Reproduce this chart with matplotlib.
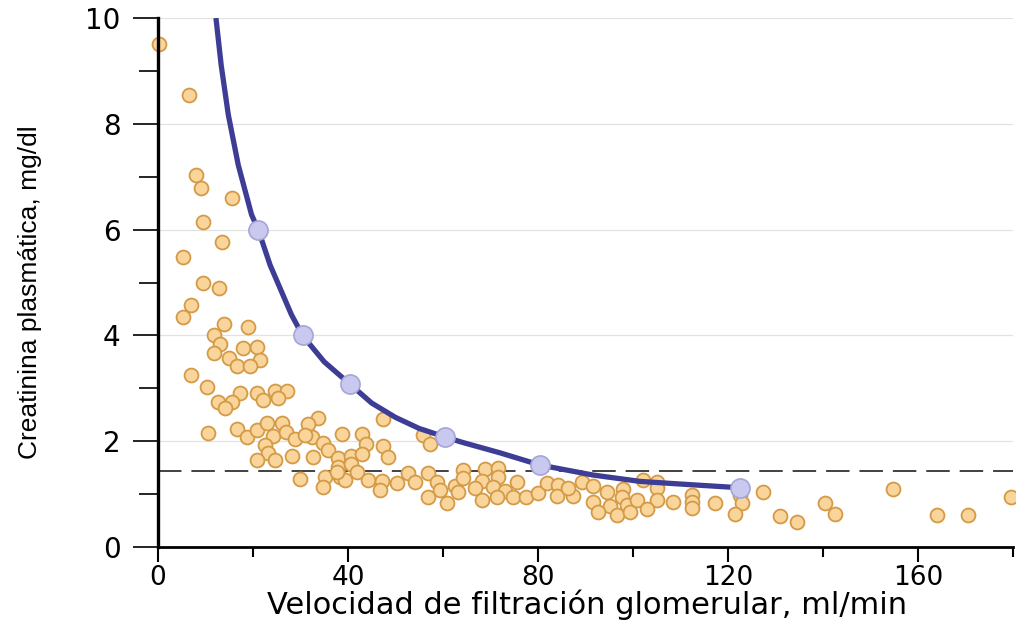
import numpy as np
import matplotlib.pyplot as plt

# scatter of patients: GFR (ml/min) vs plasma creatinine (mg/dl)
gfr_pts = [0.2, 6.5, 8, 9, 15.6, 9.5, 13.5, 5.3, 9.5, 12.8, 7, 5.3, 13.9, 19, 11.8, 13, 17.9, 20.8,
           11.8, 15, 21.5, 16.6, 19.4, 6.9, 10.3, 17.3, 20.8, 24.6, 27.2, 12.6, 15.6, 22.1, 25.3, 14.1,
           10.5, 16.6, 18.7, 20.8, 22.9, 26.1, 24.2, 26.9, 28.8, 22.5, 23.2, 20.8, 24.6, 28.2, 29.8,
           33.7, 31.6, 47.4, 38.7, 42.9, 55.8, 57.3, 32.4, 34.7, 43.8, 47.4, 32.6, 35.8, 37.9, 40.6,
           42.9, 48.4, 37.9, 40.6, 41.9, 38.3, 35.2, 34.7, 39.4, 44.2, 47.2, 46.7, 50.3, 52.6, 54.1,
           56.8, 58.7, 59.4, 62.5, 64.2, 64.2, 56.8, 60.8, 63.2, 37.7, 31.0,
           68.8, 71.6, 68.2, 71.6, 66.7, 70.5, 75.6, 73.1, 68.2, 71.4, 74.7, 77.5, 80, 81.9, 84.2, 84,
           87.4, 86.3, 89.3, 91.6, 94.5, 97.9, 97.7, 91.6, 95.2, 98.7, 92.6, 96.6, 99.4, 100.8,
           102, 105, 105, 105, 108.4, 112.4, 112.4, 112.4, 103, 117.3, 122.5, 123, 121.5, 127.4,
           131, 134.5, 140.4, 142.5, 154.7, 164, 170.5, 179.6]
cr_pts = [9.5, 8.55, 7.03, 6.79, 6.6, 6.14, 5.77, 5.48, 4.99, 4.9, 4.57, 4.35, 4.22, 4.16, 4.0, 3.84, 3.76, 3.78,
          3.67, 3.57, 3.53, 3.42, 3.42, 3.25, 3.03, 2.91, 2.91, 2.95, 2.95, 2.74, 2.74, 2.78, 2.82, 2.63,
          2.16, 2.23, 2.08, 2.21, 2.34, 2.34, 2.1, 2.17, 2.04, 1.93, 1.78, 1.64, 1.64, 1.72, 1.28,
          2.44, 2.32, 2.42, 2.14, 2.14, 2.12, 1.95, 2.08, 1.97, 1.95, 1.91, 1.70, 1.83, 1.68, 1.72,
          1.76, 1.70, 1.51, 1.57, 1.42, 1.32, 1.32, 1.13, 1.27, 1.27, 1.25, 1.08, 1.21, 1.40, 1.23,
          1.40, 1.23, 1.08, 1.15, 1.46, 1.30, 0.95, 0.83, 1.04, 1.42, 2.12,
          1.47, 1.49, 1.25, 1.32, 1.11, 1.13, 1.23, 1.06, 0.89, 0.95, 0.95, 0.95, 1.02, 1.21, 1.17, 0.96,
          0.96, 1.11, 1.23, 1.15, 1.04, 1.10, 0.95, 0.85, 0.78, 0.79, 0.66, 0.60, 0.66, 0.89,
          1.27, 1.23, 1.11, 0.89, 0.85, 0.98, 0.85, 0.74, 0.72, 0.83, 0.98, 0.83, 0.62, 1.04,
          0.59, 0.47, 0.83, 0.62, 1.10, 0.60, 0.60, 0.95]

# curve
gfr_curve = [12.2, 13.3, 14.8, 16.9, 19.7, 21.1, 23.6, 28.1, 30.5, 35, 40.4, 45, 50, 55,
             60.4, 64, 72, 80.4, 91.6, 101.5, 110, 122.5]
cr_curve = [10, 9.11, 8.17, 7.22, 6.28, 6.0, 5.33, 4.39, 3.99, 3.5, 3.08, 2.72, 2.45, 2.24,
            2.08, 1.98, 1.78, 1.55, 1.36, 1.24, 1.19, 1.12]

# highlighted points on the curve
gfr_mark = [21.1, 30.5, 40.4, 60.4, 80.4, 122.5]
cr_mark = [6.0, 4.0, 3.08, 2.08, 1.55, 1.12]

limit = 1.44

fig = plt.figure(figsize=(10.16, 6.22), dpi=100)
ax = fig.add_axes([158/1016, 75/622, 855/1016, 529/622])

for g in [2, 4, 6, 8, 10]:
    ax.axhline(g, color='#e2e2e2', lw=0.9, zorder=0)
ax.axhline(limit, color='#333333', lw=1.3, ls=(0, (13, 5.5)), zorder=1)

ax.scatter(gfr_pts, cr_pts, s=100, facecolor='#f9d59b', edgecolor='#d49a45', linewidth=1.3,
           zorder=2, clip_on=False)
ax.plot(gfr_curve, cr_curve, color='#3d3d96', lw=3.8, zorder=3, solid_capstyle='butt',
        solid_joinstyle='round')
ax.scatter(gfr_mark, cr_mark, s=190, facecolor='#c9c9ef', edgecolor='#a5a5d6', linewidth=1.2,
           zorder=4)

ax.set_xlim(0, 180)
ax.set_ylim(0, 10)
ax.set_xticks([0, 40, 80, 120, 160])
ax.set_xticks([20, 60, 100, 140, 180], minor=True)
ax.set_yticks([0, 2, 4, 6, 8, 10])
ax.set_yticks([1, 3, 5, 7, 9], minor=True)

for s in ['top', 'right']:
    ax.spines[s].set_visible(False)
ax.spines['left'].set_linewidth(2.4)
ax.spines['bottom'].set_linewidth(2.0)

ax.tick_params(axis='y', which='major', length=18, width=1.2, pad=9, labelsize=20)
ax.tick_params(axis='y', which='minor', length=14, width=1.2)
ax.tick_params(axis='x', which='major', length=11, width=1.5, pad=2, labelsize=19)
ax.tick_params(axis='x', which='minor', length=7, width=1.5)

fig.text(587/1016, 8/622, 'Velocidad de filtración glomerular, ml/min', ha='center',
         va='baseline', fontsize=22)
fig.text(30/1016, 1 - 292/622, 'Creatinina plasmática, mg/dl', rotation=90, ha='center',
         va='center', fontsize=19, family=['Liberation Sans Narrow', 'Liberation Sans'])

fig.savefig('out.png', dpi=100)
